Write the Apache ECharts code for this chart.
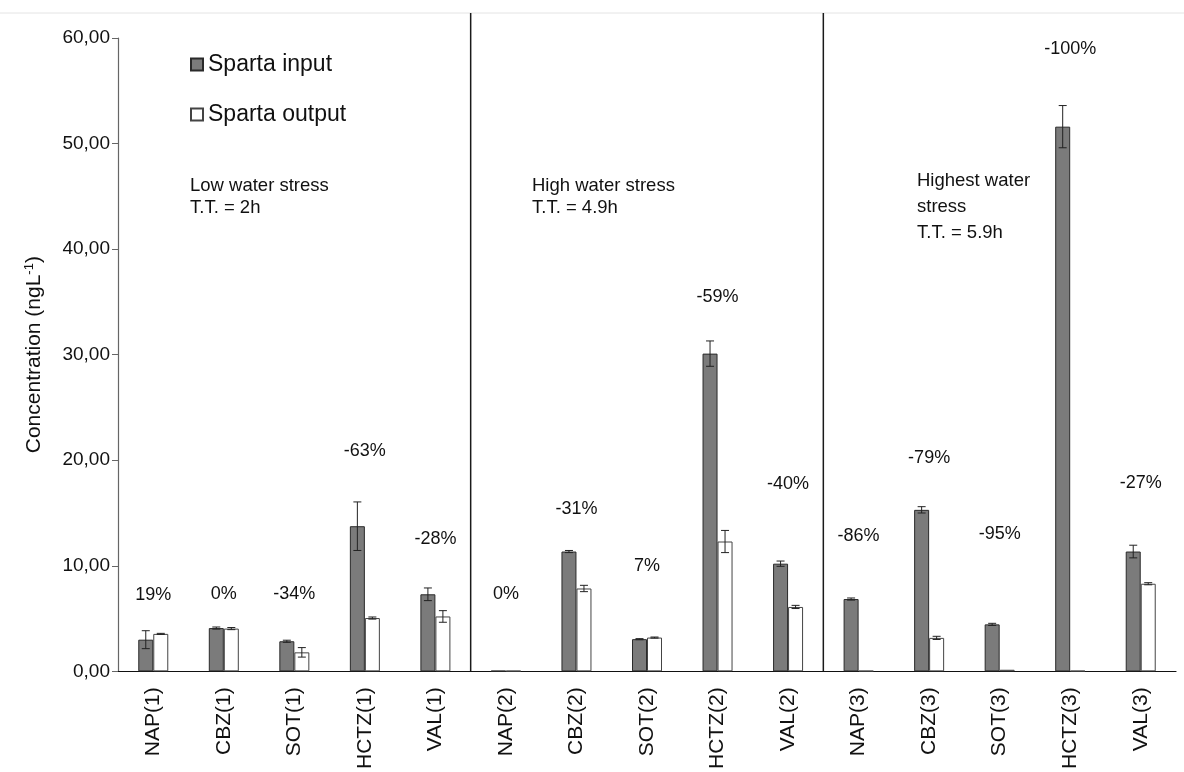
<!DOCTYPE html>
<html>
<head>
<meta charset="utf-8">
<title>Sparta input / output concentrations</title>
<script src="https://cdn.jsdelivr.net/npm/echarts@6/dist/echarts.min.js"></script>
<style>
  html, body { margin: 0; padding: 0; background: #ffffff; }
  #chart { width: 1184px; height: 772px; }
</style>
</head>
<body>
<div id="chart"></div>
<script>
// Compounds sampled at three water-stress levels (1, 2, 3)
const categories = [
  'NAP(1)', 'CBZ(1)', 'SOT(1)', 'HCTZ(1)', 'VAL(1)',
  'NAP(2)', 'CBZ(2)', 'SOT(2)', 'HCTZ(2)', 'VAL(2)',
  'NAP(3)', 'CBZ(3)', 'SOT(3)', 'HCTZ(3)', 'VAL(3)'
];

// Mean concentrations (ng/L)
const inputValues  = [3.0, 4.1, 2.85, 13.75, 7.3, 0.05, 11.35, 3.05, 30.1, 10.2, 6.85, 15.3, 4.45, 51.6, 11.35];
const outputValues = [3.55, 4.05, 1.8, 5.05, 5.2, 0.05, 7.85, 3.2, 12.3, 6.1, 0.05, 3.17, 0.15, 0.05, 8.3];

// Standard deviations
const inputErr  = [0.85, 0.1, 0.1, 2.3, 0.6, 0, 0.1, 0.05, 1.2, 0.25, 0.1, 0.3, 0.1, 2.0, 0.6];
const outputErr = [0.05, 0.1, 0.45, 0.1, 0.55, 0, 0.3, 0.05, 1.05, 0.15, 0, 0.15, 0, 0, 0.1];

// Removal / change between input and output
const changeLabels = ['19%', '0%', '-34%', '-63%', '-28%',
                      '0%', '-31%', '7%', '-59%', '-40%',
                      '-86%', '-79%', '-95%', '-100%', '-27%'];
// Height (in ng/L) at which each change label sits
const labelLevels = [7.2, 7.3, 7.3, 20.9, 12.5,
                     7.3, 15.4, 10.0, 35.5, 17.7,
                     12.8, 20.2, 13.0, 59.0, 17.8];

// Y axis ticks
const yMin = 0, yMax = 60, yStep = 10;

// Stress-level descriptions shown in each panel
const stressNotes = [
  'Low water stress\nT.T. = 2h',
  'High water stress\nT.T. = 4.9h',
  'Highest water\nstress\nT.T. = 5.9h'
];

const FONT = '"Liberation Sans", Arial, sans-serif';
const BAR_W = 15;

function errorSeries(name, values, errs, offset) {
  return {
    type: 'custom',
    name: name + ' error',
    z: 5,
    silent: true,
    data: values.map((v, i) => [i, v, errs[i]]),
    renderItem: function (params, api) {
      const i = api.value(0), v = api.value(1), e = api.value(2);
      if (!e) return null;
      const hi = api.coord([i, v + e]);
      const lo = api.coord([i, v - e]);
      const x = hi[0] + offset;
      const cap = 4;
      const style = { stroke: '#222', lineWidth: 1 };
      return {
        type: 'group',
        children: [
          { type: 'line', shape: { x1: x, y1: hi[1], x2: x, y2: lo[1] }, style: style },
          { type: 'line', shape: { x1: x - cap, y1: hi[1], x2: x + cap, y2: hi[1] }, style: style },
          { type: 'line', shape: { x1: x - cap, y1: lo[1], x2: x + cap, y2: lo[1] }, style: style }
        ]
      };
    }
  };
}

const chart = echarts.init(document.getElementById('chart'), null, { renderer: 'canvas' });

const option = {
  backgroundColor: '#ffffff',
  animation: false,
  textStyle: { fontFamily: FONT },
  grid: { left: 118, right: 8, top: 38, bottom: 100 },
  legend: {
    data: ['Sparta input', 'Sparta output'],
    orient: 'vertical',
    left: 185,
    top: 48,
    itemWidth: 12,
    itemHeight: 12,
    itemGap: 27,
    icon: 'rect',
    textStyle: { fontFamily: FONT, fontSize: 23, color: '#111' }
  },
  xAxis: {
    type: 'category',
    data: categories,
    axisLine: { lineStyle: { color: '#111', width: 1.2 } },
    axisTick: { show: false },
    axisLabel: { rotate: 90, margin: 16, fontSize: 21, color: '#111', fontFamily: FONT, interval: 0 },
    splitLine: { show: false }
  },
  yAxis: {
    type: 'value',
    min: yMin,
    max: yMax,
    interval: yStep,
    name: 'Concentration (ngL{sup|-1})',
    nameLocation: 'middle',
    nameGap: 72,
    nameTextStyle: {
      fontSize: 21, color: '#111', fontFamily: FONT,
      rich: { sup: { fontSize: 13, verticalAlign: 'top', padding: [0, 0, 10, 0], fontFamily: FONT, color: '#111' } }
    },
    axisLine: { show: true, lineStyle: { color: '#666', width: 1.2 } },
    axisTick: { show: true, inside: false, length: 6, lineStyle: { color: '#666' } },
    axisLabel: {
      fontSize: 19, color: '#111', margin: 8, fontFamily: FONT,
      formatter: v => v.toFixed(2).replace('.', ',')
    },
    splitLine: { show: false }
  },
  series: [
    {
      name: 'Sparta input',
      type: 'bar',
      data: inputValues,
      barWidth: BAR_W,
      barGap: '0%',
      itemStyle: { color: '#7b7b7b', borderColor: '#2a2a2a', borderWidth: 1 }
    },
    {
      name: 'Sparta output',
      type: 'bar',
      data: outputValues,
      barWidth: BAR_W,
      barGap: '0%',
      itemStyle: { color: '#ffffff', borderColor: '#444', borderWidth: 1 }
    },
    errorSeries('Sparta input', inputValues, inputErr, -BAR_W / 2),
    errorSeries('Sparta output', outputValues, outputErr, BAR_W / 2),
    {
      name: 'change',
      type: 'scatter',
      symbolSize: 0,
      silent: true,
      itemStyle: { opacity: 1 },
      data: labelLevels.map((h, i) => [i, h]),
      label: {
        show: true,
        position: 'inside',
        fontSize: 18,
        color: '#111',
        fontFamily: FONT,
        formatter: p => changeLabels[p.dataIndex]
      }
    }
  ]
};

chart.setOption(option);

// Panel separators, faint frame edge and stress-level notes
function drawDecorations() {
  const top = 13;
  const baseY = chart.convertToPixel({ yAxisIndex: 0 }, 0);
  const cx = i => chart.convertToPixel({ xAxisIndex: 0 }, categories[i]);
  const boundaries = [
    (cx(4) + cx(5)) / 2,
    (cx(9) + cx(10)) / 2
  ];
  const elements = [
    {
      type: 'line',
      shape: { x1: 0, y1: top, x2: 1184, y2: top },
      style: { stroke: '#e4e4e4', lineWidth: 1 },
      silent: true
    }
  ];
  boundaries.forEach(x => {
    elements.push({
      type: 'line',
      shape: { x1: x, y1: top, x2: x, y2: baseY },
      style: { stroke: '#1a1a1a', lineWidth: 1.5 },
      silent: true,
      z: 10
    });
  });
  const notePos = [
    { x: 190, y: 175, lh: 22 },
    { x: 532, y: 175, lh: 22 },
    { x: 917, y: 168, lh: 26 }
  ];
  stressNotes.forEach((t, k) => {
    elements.push({
      type: 'text',
      left: notePos[k].x,
      top: notePos[k].y,
      silent: true,
      style: {
        text: t,
        font: '18.5px ' + FONT,
        fill: '#111',
        lineHeight: notePos[k].lh
      }
    });
  });
  chart.setOption({ graphic: elements });
}
drawDecorations();
</script>
</body>
</html>
